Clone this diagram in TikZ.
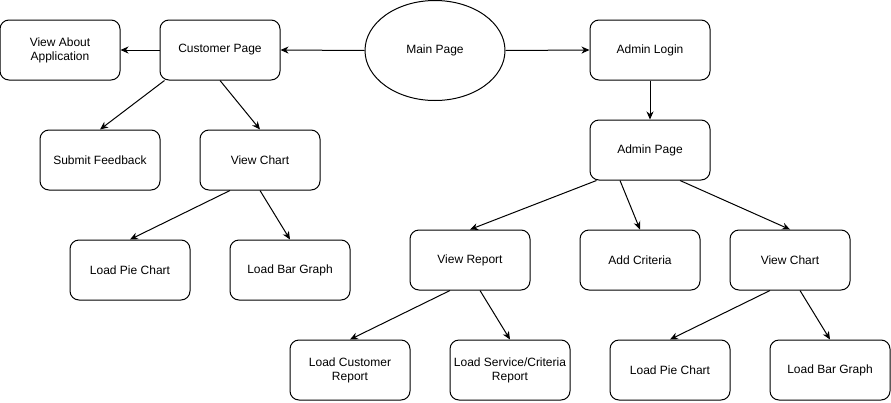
\documentclass[tikz,border=0pt]{standalone}
\usepackage{fontspec}
\setmainfont{Liberation Sans}
\usetikzlibrary{arrows.meta,shapes.geometric}
\begin{document}
\begin{tikzpicture}[x=1pt,y=-1pt,
  box/.style={draw,line width=1pt,rounded corners=9pt,minimum width=120pt,minimum height=60pt,inner sep=1pt,align=center,font=\fontsize{12pt}{14pt}\selectfont},
  oval/.style={draw,line width=1pt,ellipse,minimum width=140pt,minimum height=100pt,inner sep=0pt,font=\fontsize{12pt}{14pt}\selectfont},
  arr/.style={draw,line width=1pt,-{Stealth[length=8pt,width=7pt,inset=2.5pt]}}]
\useasboundingbox (0,0) rectangle (891,402);
\node[oval] (mp) at (435,50.5) {Main Page};
\node[box] (va) at (60,50) {View About\\Application};
\node[box] (cp) at (220,50) {Customer Page};
\node[box] (al) at (650,50) {Admin Login};
\node[box] (sf) at (100,160) {Submit Feedback};
\node[box] (vc1) at (260,160) {View Chart};
\node[box] (lp1) at (130,270) {Load Pie Chart};
\node[box] (lb1) at (290,270) {Load Bar Graph};
\node[box] (ap) at (650,150) {Admin Page};
\node[box] (vr) at (470,260) {View Report};
\node[box] (ac) at (640,260) {Add Criteria};
\node[box] (vc2) at (790,260) {View Chart};
\node[box] (lcr) at (350,370) {Load Customer\\Report};
\node[box] (lsr) at (510,370) {Load Service/Criteria\\Report};
\node[box] (lp2) at (670,370) {Load Pie Chart};
\node[box] (lb2) at (830,370) {Load Bar Graph};
\draw[arr] (mp.west) -- (cp.east);
\draw[arr] (cp.west) -- (va.east);
\draw[arr] (mp.east) -- (al.west);
\draw[arr] (al.south) -- (ap.north);
\draw[arr] ([xshift=5pt]cp.south west) -- (sf.north);
\draw[arr] (cp.south) -- (vc1.north);
\draw[arr] ([xshift=-30pt]vc1.south) -- (lp1.north);
\draw[arr] (vc1.south) -- (lb1.north);
\draw[arr] ([xshift=7pt]ap.south west) -- (vr.north);
\draw[arr] ([xshift=-30pt]ap.south) -- (ac.north);
\draw[arr] ([xshift=30pt]ap.south) -- (vc2.north);
\draw[arr] ([xshift=-20pt]vr.south) -- (lcr.north);
\draw[arr] ([xshift=10pt]vr.south) -- (lsr.north);
\draw[arr] ([xshift=-20pt]vc2.south) -- (lp2.north);
\draw[arr] ([xshift=10pt]vc2.south) -- (lb2.north);
\end{tikzpicture}
\end{document}
